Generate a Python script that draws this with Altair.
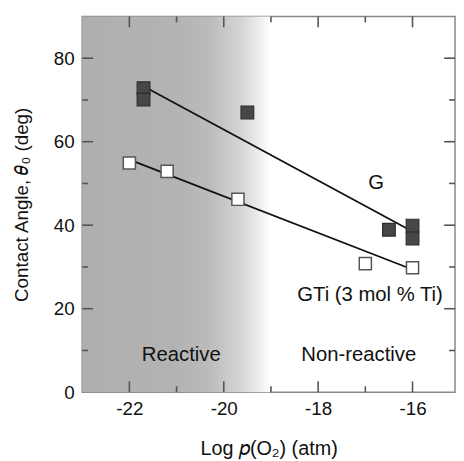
import altair as alt
import pandas as pd

# ---- data ----
g_x = [-21.7, -21.7, -19.5, -16.5, -16.0, -16.0]
g_y = [72.8, 70.1, 67.0, 38.9, 39.9, 36.8]
gti_x = [-22.0, -21.2, -19.7, -17.0, -16.0]
gti_y = [54.9, 52.9, 46.2, 30.8, 29.8]
g_fit_x = [-21.7, -16.0]
g_fit_y = [73.3, 38.5]
gti_fit_x = [-22.0, -16.0]
gti_fit_y = [55.7, 29.4]
region_x = [-23.0]
region_x2 = [-19.0]
labels = ["G", "GTi (3 mol % Ti)", "Reactive", "Non-reactive"]
label_x = [-16.77, -16.9, -20.9, -17.14]
label_y = [50.1, 23.3, 8.8, 8.8]
x_major = [-22, -20, -18, -16]
x_minor = [-21, -19, -17]
y_major = [20, 40, 60, 80]
y_minor = [10, 30, 50, 70]

FONT = "Liberation Sans"
XDOM = [-23.0, -15.1]
YDOM = [0.0, 90.0]
W, H = 377, 380
TICK_COLOR = "#555555"


# tick lengths (pixels) converted to data units of each scale
def len_x(px):
    return px / W * (XDOM[1] - XDOM[0])


def len_y(px):
    return px / H * (YDOM[1] - YDOM[0])


rows = []
tid = 0


def add_tick(xa, ya, xb, yb):
    global tid
    rows.append({"id": tid, "k": 0, "a": xa, "b": ya})
    rows.append({"id": tid, "k": 1, "a": xb, "b": yb})
    tid += 1


for v in x_major + x_minor:
    L = 11 if v in x_major else 6
    add_tick(v, YDOM[0], v, YDOM[0] + len_y(L))
    add_tick(v, YDOM[1], v, YDOM[1] - len_y(L))
for v in y_major + y_minor:
    L = 11 if v in y_major else 6
    add_tick(XDOM[0], v, XDOM[0] + len_x(L), v)
    add_tick(XDOM[1], v, XDOM[1] - len_x(L), v)
tick_df = pd.DataFrame(rows)

g_df = pd.DataFrame({"x": g_x, "y": g_y})
gti_df = pd.DataFrame({"x": gti_x, "y": gti_y})
gfit_df = pd.DataFrame({"x": g_fit_x, "y": g_fit_y})
gtifit_df = pd.DataFrame({"x": gti_fit_x, "y": gti_fit_y})
reg_df = pd.DataFrame({"x": region_x, "x2": region_x2, "y": [YDOM[0]], "y2": [YDOM[1]]})
lab_df = pd.DataFrame({"t": labels, "x": label_x, "y": label_y})

xs = alt.Scale(domain=XDOM, nice=False, zero=False)
ys = alt.Scale(domain=YDOM, nice=False)

x_enc = alt.X("x:Q", scale=xs,
              axis=alt.Axis(values=x_major, labelExpr="toString(datum.value)",
                            grid=False, ticks=False, domain=False,
                            labelFontSize=19, labelFont=FONT, labelColor="#111111",
                            labelPadding=8, title="Log 𝑝(O₂) (atm)",
                            titleFont=FONT, titleFontSize=20, titleFontWeight="normal",
                            titleColor="#111111", titlePadding=20))
y_enc = alt.Y("y:Q", scale=ys,
              axis=alt.Axis(values=[0] + y_major, grid=False, ticks=False, domain=False,
                            labelFontSize=19, labelFont=FONT, labelColor="#111111",
                            labelPadding=8, title="Contact Angle, 𝜃₀ (deg)",
                            titleFont=FONT, titleFontSize=19, titleFontWeight="normal",
                            titleColor="#111111", titlePadding=22))

shade = alt.Chart(reg_df).mark_rect(
    fill={"gradient": "linear", "x1": 0, "x2": 1, "y1": 0, "y2": 0,
          "stops": [{"offset": 0, "color": "#afafaf"},
                    {"offset": 0.5, "color": "#b3b3b3"},
                    {"offset": 0.68, "color": "#bcbcbc"},
                    {"offset": 0.85, "color": "#d6d6d6"},
                    {"offset": 1, "color": "#ffffff"}]}
).encode(x=x_enc, x2="x2:Q", y=y_enc, y2="y2:Q")

ticks = alt.Chart(tick_df).mark_line(color=TICK_COLOR, strokeWidth=1.6).encode(
    x=alt.X("a:Q"), y=alt.Y("b:Q"), detail="id:N", order="k:O")

gline = alt.Chart(gfit_df).mark_line(color="#111111", strokeWidth=1.8).encode(
    x="x:Q", y="y:Q")
gtiline = alt.Chart(gtifit_df).mark_line(color="#111111", strokeWidth=1.8).encode(
    x="x:Q", y="y:Q")

gpts = alt.Chart(g_df).mark_square(size=165, filled=True, fill="#474747", stroke="#2e2e2e",
                                   strokeWidth=1.2, opacity=1).encode(x="x:Q", y="y:Q")
gtipts = alt.Chart(gti_df).mark_square(size=150, filled=True, fill="#ffffff", stroke="#555555",
                                       strokeWidth=1.5, opacity=1).encode(x="x:Q", y="y:Q")

text = alt.Chart(lab_df).mark_text(font=FONT, fontSize=20.5, color="#111111",
                                   align="center", baseline="middle").encode(
    x="x:Q", y="y:Q", text="t:N")

chart = alt.layer(shade, ticks, gline, gtiline, gpts, gtipts, text).properties(
    width=W, height=H,
    padding={"left": 75, "top": 6, "right": 1, "bottom": 66},
    autosize=alt.AutoSizeParams(type="none"),
).configure_view(stroke="#888888", strokeWidth=1.5)

chart.save("out.html", embed_options={"renderer": "svg", "actions": False})
